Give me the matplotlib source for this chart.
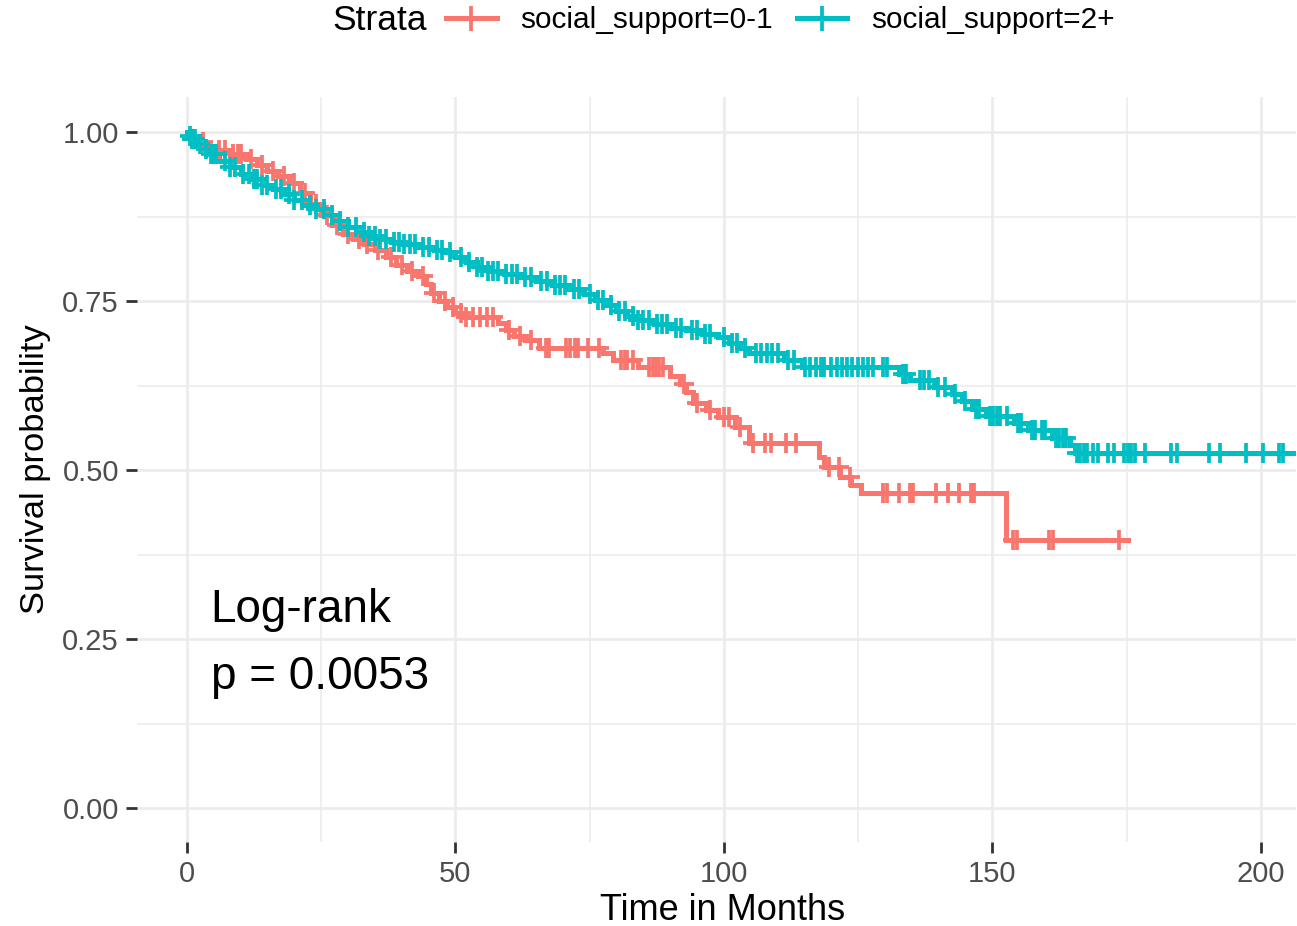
import numpy as np
import matplotlib
matplotlib.use("Agg")
import matplotlib.pyplot as plt
from matplotlib.lines import Line2D
from matplotlib.ticker import MultipleLocator

plt.rcParams["font.family"] = ["Liberation Sans", "DejaVu Sans"]

RED, CYAN = "#F8766D", "#00BFC4"
labels = ["social_support=0-1", "social_support=2+"]

# KM step curves (time in months, survival after the step)
red_t = [0, 0.5, 2, 3.5, 5, 8, 11, 13, 15, 17, 19, 21, 23, 25, 27, 29, 31, 33, 35, 37,
         39, 41, 43, 44.5, 45.5, 47, 48.5, 50, 51.5, 58, 59.5, 61, 63, 65.5, 77.5, 79.3,
         84, 90, 91.8, 93, 94.2, 96.7, 99, 102, 104.7, 117.7, 118.7, 121.6, 123.6, 125.5,
         152.5, 175.2]
red_s = [1.0, 0.99, 0.985, 0.978, 0.974, 0.968, 0.96, 0.952, 0.943, 0.935, 0.925, 0.91,
         0.893, 0.878, 0.862, 0.85, 0.842, 0.835, 0.826, 0.815, 0.803, 0.795, 0.787, 0.775,
         0.762, 0.75, 0.742, 0.733, 0.726, 0.718, 0.708, 0.699, 0.692, 0.68, 0.673, 0.663,
         0.652, 0.64, 0.627, 0.615, 0.6, 0.589, 0.578, 0.564, 0.54, 0.52, 0.505, 0.49,
         0.478, 0.4655, 0.3974, 0.3974]
red_cens = [1, 3, 6, 7, 8.5, 9.5, 10, 12, 14, 16, 18, 20, 22, 24, 26, 28, 30, 32, 33.5,
            35.5, 38, 40, 42, 44, 46, 48, 49.5, 51, 52, 53.3, 54.5, 55.8, 57, 60, 62, 64,
            66.9, 67.5, 70.6, 71.3, 72.2, 72.8, 74.7, 76.8, 80.9, 81.5, 82, 83, 86.1, 86.8,
            87.4, 88, 88.6, 92.5, 95, 97.5, 100, 101, 103, 105.4, 107.7, 108.7, 111.6,
            113.5, 119.5, 121.5, 123.5, 129.7, 130.4, 132.7, 134.6, 135.3, 139.5, 141.8,
            143.7, 146, 146.6, 153.9, 154.6, 160.6, 161.3, 173.6]

cyan_t = [0, 0.3, 1, 2, 3, 4, 6, 8, 10, 12, 14, 16, 18, 20, 22, 24, 26, 28, 30, 32, 34,
          36, 38, 40, 43, 46, 48, 50, 52, 54, 56, 59, 62, 65, 68, 71, 74, 76, 78, 80, 82,
          84, 87, 90, 93, 96, 99, 101, 103, 104.7, 111.2, 114.5, 132.7, 134.6, 139.1,
          142.4, 144.3, 146.3, 148.9, 154.1, 156.7, 161.2, 164.5, 165.4, 206]
cyan_s = [1.0, 0.995, 0.99, 0.983, 0.975, 0.968, 0.958, 0.948, 0.938, 0.93, 0.922, 0.916,
          0.908, 0.9, 0.892, 0.886, 0.878, 0.868, 0.86, 0.852, 0.846, 0.842, 0.838, 0.834,
          0.83, 0.826, 0.822, 0.815, 0.808, 0.8, 0.795, 0.79, 0.786, 0.78, 0.774, 0.768,
          0.76, 0.752, 0.744, 0.736, 0.728, 0.722, 0.716, 0.711, 0.707, 0.702, 0.697, 0.688,
          0.68, 0.6726, 0.6627, 0.6528, 0.643, 0.633, 0.623, 0.613, 0.603, 0.59, 0.58, 0.57,
          0.56, 0.548, 0.5375, 0.5247, 0.5247]
cyan_cens = [0.5, 1, 1.5, 2.5, 3.5, 4.5, 5, 5.5, 7, 8, 9, 10.5, 11.5, 12.5, 13, 14, 15,
             16.5, 17.5, 19, 20, 21.5, 23, 24, 25.5, 27, 28.5, 30, 31.5, 33, 34, 35, 36,
             37, 38.5, 39.5, 40.5, 41.5, 42.5, 44, 45, 46.5, 47.5, 49, 51, 52.5, 54, 55,
             56, 57, 58, 59.5, 60.5, 61.5, 63, 64, 66, 67, 68.5, 69.5, 70.5, 72, 73, 75,
             76.5, 77.5, 79, 80.5, 81.5, 83, 84, 85, 86, 87.5, 88.5, 89.5, 91, 92, 94, 95,
             96.5, 97.5, 100, 101.5, 102.5, 104, 106, 107, 108, 109, 110, 112, 113, 115.1,
             116.1, 117.1, 118.1, 118.7, 120, 121, 122, 122.9, 123.9, 124.9, 125.9, 126.8,
             127.8, 129.7, 130.4, 133.3, 134, 136.5, 137.2, 138.2, 139.8, 141.1, 143, 145,
             146.9, 147.6, 149.5, 150.2, 150.8, 151.5, 152.8, 154.7, 155.4, 157.3, 158,
             159.3, 159.9, 161.9, 162.5, 163.2, 163.8, 165.8, 166.4, 167.1, 167.7, 168.7,
             169.7, 171.6, 172.6, 174.5, 175.2, 175.8, 176.5, 178.4, 183.3, 184.3, 190.4,
             192.4, 197.2, 200.5, 203.4, 204.1]

fig = plt.figure(figsize=(12.97, 9.26), dpi=100)
ax = fig.add_axes([137/1297, 1-842/926, 1-137/1297-0.001, (842-97)/926])

LW, MS, MEW = 3.6, 15, 2.7


def km(t, s, cens, col):
    t = np.asarray(t); s = np.asarray(s); c = np.asarray(cens)
    ax.step(t, s, where="post", color=col, lw=LW, solid_joinstyle="miter", zorder=3)
    cy = s[np.searchsorted(t, c, side="right") - 1]
    ax.plot(c, cy, ls="none", marker="+", ms=MS, mew=MEW, color=col, zorder=4)


km(red_t, red_s, red_cens, RED)
km(cyan_t, cyan_s, cyan_cens, CYAN)

ax.set_xlim(-9.3, 206.5)
ax.set_ylim(-0.05, 1.052)
ax.xaxis.set_major_locator(MultipleLocator(50))
ax.xaxis.set_minor_locator(MultipleLocator(25))
ax.yaxis.set_major_locator(MultipleLocator(0.25))
ax.yaxis.set_minor_locator(MultipleLocator(0.125))
ax.yaxis.set_major_formatter(plt.FuncFormatter(lambda v, p: f"{v:.2f}"))
ax.grid(which="major", color="#EBEBEB", lw=1.9, zorder=0)
ax.grid(which="minor", color="#EBEBEB", lw=1.1, zorder=0)
ax.set_axisbelow(True)
for sp in ax.spines.values():
    sp.set_visible(False)
ax.tick_params(which="major", length=8, width=2, color="#333333",
               labelsize=21, labelcolor="#4D4D4D", pad=5)
ax.tick_params(which="minor", length=0)

ax.set_xlabel("Time in Months", fontsize=26, va="center")
ax.xaxis.set_label_coords(0.505, -(910 - 842) / 745)
ax.set_ylabel("Survival probability", fontsize=24.8, labelpad=8)

ax.text(4.4, 0.2756, "Log-rank", fontsize=33, va="baseline", ha="left")
ax.text(4.4, 0.176, "p = 0.0053", fontsize=33, va="baseline", ha="left")

# legend on top, ggplot style with title on the left
fig.text(332/1297, 1-20/926, "Strata", fontsize=25.5, va="center", ha="left")
handles = [Line2D([], [], color=c, lw=LW, marker="+", ms=MS + 3, mew=MEW)
           for c in (RED, CYAN)]
fig.legend(handles, labels, loc="center left", bbox_to_anchor=(446/1297, 1-20/926),
           ncol=2, frameon=False, fontsize=21.4, handlelength=1.7, handletextpad=0.8,
           columnspacing=0.8, borderpad=0, borderaxespad=0)

fig.savefig("out.png", dpi=100)
